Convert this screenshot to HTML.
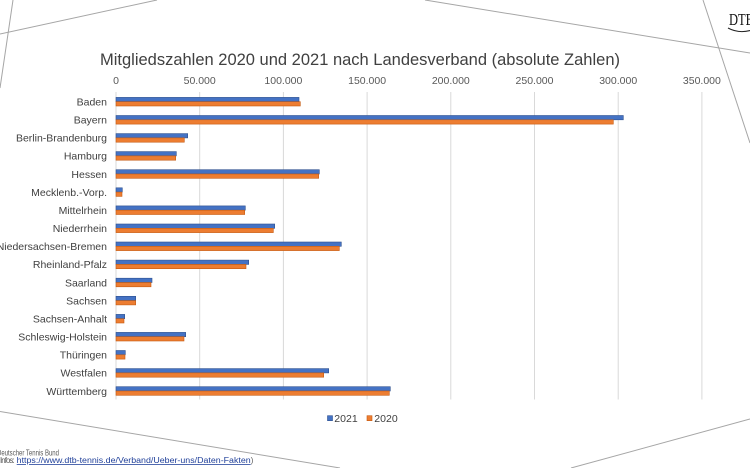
<!DOCTYPE html>
<html><head><meta charset="utf-8"><style>
html,body{margin:0;padding:0;background:#fff;}
svg{display:block;}
</style></head><body>
<svg width="750" height="468" viewBox="0 0 750 468" xmlns="http://www.w3.org/2000/svg" font-family="Liberation Sans, Arial, sans-serif">
<rect width="750" height="468" fill="#fff"/>
<!-- decorative lines -->
<g stroke="#a6a6a6" stroke-width="1" fill="none">
<line x1="13" y1="0" x2="0" y2="88"/>
<line x1="0" y1="34" x2="157" y2="0"/>
<line x1="425" y1="0" x2="750" y2="53"/>
<line x1="703" y1="0" x2="750" y2="143"/>
<line x1="0" y1="411.5" x2="340" y2="468"/>
<line x1="750" y1="419" x2="571" y2="468"/>
</g>
<!-- logo -->
<text x="729" y="25" font-family="Liberation Serif, serif" font-size="17" fill="#111" textLength="25" lengthAdjust="spacingAndGlyphs">DTB</text>
<path d="M728 28 Q739 34 752 30" stroke="#222" stroke-width="1" fill="none"/>
<!-- title -->
<text x="360" y="65" text-anchor="middle" font-size="16.8" fill="#404040" textLength="520" lengthAdjust="spacingAndGlyphs">Mitgliedszahlen 2020 und 2021 nach Landesverband (absolute Zahlen)</text>
<!-- gridlines -->
<g stroke="#d9d9d9" stroke-width="1">
<line x1="116" y1="92" x2="116" y2="399.5"/>
<line x1="199.7" y1="92" x2="199.7" y2="399.5"/>
<line x1="283.4" y1="92" x2="283.4" y2="399.5"/>
<line x1="367.1" y1="92" x2="367.1" y2="399.5"/>
<line x1="450.8" y1="92" x2="450.8" y2="399.5"/>
<line x1="534.5" y1="92" x2="534.5" y2="399.5"/>
<line x1="618.2" y1="92" x2="618.2" y2="399.5"/>
<line x1="701.9" y1="92" x2="701.9" y2="399.5"/>
</g>
<!-- tick labels -->
<g font-size="10.5" fill="#595959" text-anchor="middle">
<text x="116" y="84">0</text>
<text x="199.7" y="84">50.000</text>
<text x="283.4" y="84">100.000</text>
<text x="367.1" y="84">150.000</text>
<text x="450.8" y="84">200.000</text>
<text x="534.5" y="84">250.000</text>
<text x="618.2" y="84">300.000</text>
<text x="701.9" y="84">350.000</text>
</g>
<!-- category labels -->
<g font-size="10.5" fill="#404040" text-anchor="end">
<text x="107" y="105.5">Baden</text>
<text x="107" y="123.6">Bayern</text>
<text x="107" y="141.7">Berlin-Brandenburg</text>
<text x="107" y="159.7">Hamburg</text>
<text x="107" y="177.8">Hessen</text>
<text x="107" y="195.9">Mecklenb.-Vorp.</text>
<text x="107" y="214">Mittelrhein</text>
<text x="107" y="232.1">Niederrhein</text>
<text x="107" y="250.1">Niedersachsen-Bremen</text>
<text x="107" y="268.2">Rheinland-Pfalz</text>
<text x="107" y="286.3">Saarland</text>
<text x="107" y="304.4">Sachsen</text>
<text x="107" y="322.5">Sachsen-Anhalt</text>
<text x="107" y="340.5">Schleswig-Holstein</text>
<text x="107" y="358.6">Thüringen</text>
<text x="107" y="376.7">Westfalen</text>
<text x="107" y="394.8">Württemberg</text>
</g>
<!-- bars 2021 (blue) -->
<g fill="#4472C4" stroke="#2F528F" stroke-width="0.6">
<rect x="116" y="97.4" width="183" height="4.3"/>
<rect x="116" y="115.5" width="507.3" height="4.3"/>
<rect x="116" y="133.6" width="71.7" height="4.3"/>
<rect x="116" y="151.6" width="60.3" height="4.3"/>
<rect x="116" y="169.7" width="203.3" height="4.3"/>
<rect x="116" y="187.8" width="6.3" height="4.3"/>
<rect x="116" y="205.9" width="129.3" height="4.3"/>
<rect x="116" y="224" width="158.7" height="4.3"/>
<rect x="116" y="242" width="225.3" height="4.3"/>
<rect x="116" y="260.1" width="132.7" height="4.3"/>
<rect x="116" y="278.2" width="36" height="4.3"/>
<rect x="116" y="296.3" width="19.7" height="4.3"/>
<rect x="116" y="314.4" width="8.7" height="4.3"/>
<rect x="116" y="332.4" width="69.7" height="4.3"/>
<rect x="116" y="350.5" width="9.3" height="4.3"/>
<rect x="116" y="368.6" width="212.7" height="4.3"/>
<rect x="116" y="386.7" width="274.3" height="4.3"/>
</g>
<!-- bars 2020 (orange) -->
<g fill="#ED7D31" stroke="#C55A11" stroke-width="0.6">
<rect x="116" y="101.7" width="184.3" height="4.3"/>
<rect x="116" y="119.8" width="497.3" height="4.3"/>
<rect x="116" y="137.9" width="68.3" height="4.3"/>
<rect x="116" y="155.9" width="59.7" height="4.3"/>
<rect x="116" y="174" width="202.7" height="4.3"/>
<rect x="116" y="192.1" width="6" height="4.3"/>
<rect x="116" y="210.2" width="128.7" height="4.3"/>
<rect x="116" y="228.3" width="157.3" height="4.3"/>
<rect x="116" y="246.3" width="223.3" height="4.3"/>
<rect x="116" y="264.4" width="130" height="4.3"/>
<rect x="116" y="282.5" width="35" height="4.3"/>
<rect x="116" y="300.6" width="19.7" height="4.3"/>
<rect x="116" y="318.7" width="8" height="4.3"/>
<rect x="116" y="336.7" width="68" height="4.3"/>
<rect x="116" y="354.8" width="9" height="4.3"/>
<rect x="116" y="372.9" width="207.7" height="4.3"/>
<rect x="116" y="391" width="273.3" height="4.3"/>
</g>
<!-- legend -->
<rect x="327.5" y="415.7" width="5" height="5" fill="#4472C4" stroke="#2F528F" stroke-width="0.6"/>
<text x="334.3" y="422" font-size="10.5" fill="#404040">2021</text>
<rect x="367" y="415.7" width="5" height="5" fill="#ED7D31" stroke="#C55A11" stroke-width="0.6"/>
<text x="374.3" y="422" font-size="10.5" fill="#404040">2020</text>
<!-- footer -->
<text x="-3" y="455.5" font-size="7.8" fill="#595959" textLength="62" lengthAdjust="spacingAndGlyphs">Deutscher Tennis Bund</text>
<text x="0" y="463" font-size="7.8" fill="#595959"><tspan textLength="16">Infos: </tspan><tspan fill="#1F3F99" text-decoration="underline" x="16.7" textLength="234" lengthAdjust="spacingAndGlyphs">https://www.dtb-tennis.de/Verband/Ueber-uns/Daten-Fakten</tspan><tspan>)</tspan></text>
</svg>
</body></html>
